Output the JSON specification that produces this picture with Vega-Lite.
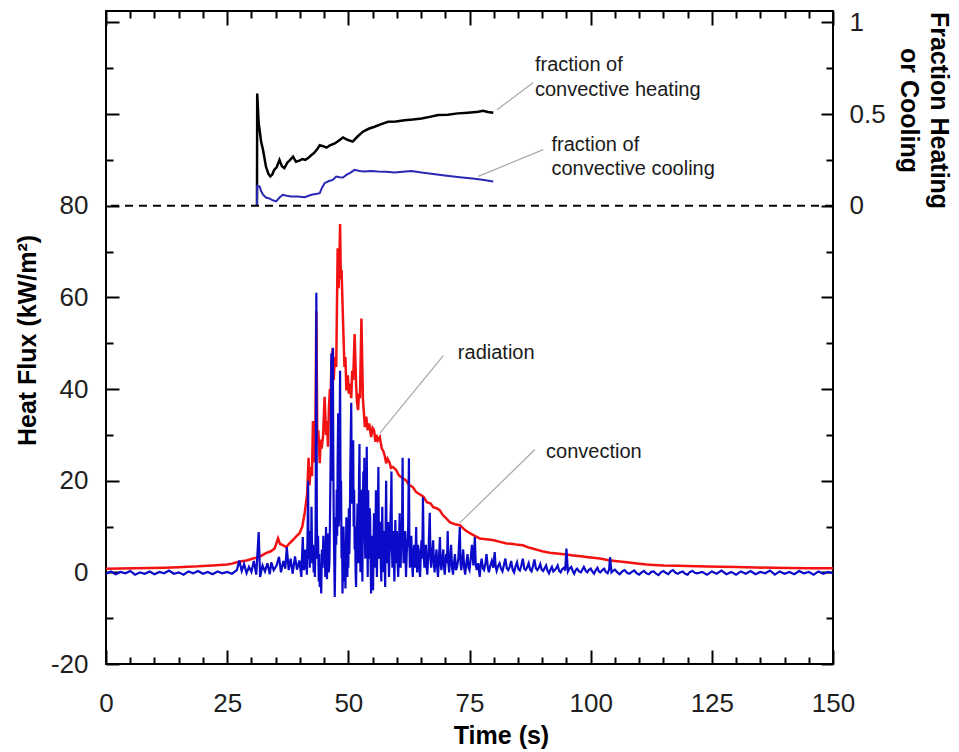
{
  "$schema": "https://vega.github.io/schema/vega-lite/v6.json",
  "width": 727,
  "height": 653,
  "autosize": {"type": "none"},
  "padding": {"left": 106, "top": 11, "right": 126, "bottom": 88},
  "background": "white",
  "config": {
    "view": {"stroke": "black", "strokeWidth": 2},
    "axis": {
      "grid": false, "domain": false, "labelFlush": false, "labelOverlap": false,
      "labelFont": "Liberation Sans", "labelFontSize": 26, "labelColor": "#1e1e1e",
      "titleFont": "Liberation Sans", "titleFontSize": 25, "titleFontWeight": "bold", "titleColor": "#000000",
      "tickColor": "#000000", "tickWidth": 2
    }
  },
  "datasets": {
    "radiation": [
      {"t":0,"q":0.8},{"t":3,"q":0.85},{"t":6,"q":0.9},{"t":9,"q":0.95},{"t":12,"q":1.0},{"t":15,"q":1.1},{"t":18,"q":1.25},{"t":20,"q":1.4},{"t":22,"q":1.5},{"t":25,"q":1.7},{"t":26,"q":1.9},{"t":27,"q":2.2},{"t":28,"q":2.4},{"t":29,"q":2.6},{"t":30,"q":2.9},{"t":31,"q":3.2},{"t":32,"q":3.6},{"t":33,"q":4.2},{"t":34,"q":4.6},{"t":34.8,"q":5.2},{"t":35.5,"q":7.4},{"t":35.9,"q":6.2},{"t":36.4,"q":6.0},{"t":37.2,"q":5.5},{"t":37.8,"q":6.3},{"t":38.5,"q":7.0},{"t":39.2,"q":7.8},{"t":39.9,"q":8.5},{"t":40.5,"q":10},{"t":41.0,"q":13},{"t":41.5,"q":17},{"t":41.8,"q":25},{"t":42.0,"q":19},{"t":42.2,"q":23},{"t":42.5,"q":21},{"t":42.7,"q":33},{"t":42.9,"q":24},{"t":43.2,"q":30},{"t":43.4,"q":57},{"t":43.6,"q":28},{"t":43.8,"q":31},{"t":44.1,"q":23.8},{"t":44.3,"q":29},{"t":44.5,"q":27},{"t":44.8,"q":30},{"t":45.1,"q":38.3},{"t":45.4,"q":30},{"t":45.6,"q":33},{"t":45.8,"q":27.4},{"t":46.0,"q":36},{"t":46.2,"q":40},{"t":46.35,"q":37},{"t":46.5,"q":46},{"t":46.8,"q":48.9},{"t":47.0,"q":42},{"t":47.2,"q":47},{"t":47.5,"q":44.8},{"t":47.8,"q":70.7},{"t":48.0,"q":62},{"t":48.15,"q":68},{"t":48.3,"q":76},{"t":48.45,"q":64},{"t":48.6,"q":66},{"t":48.9,"q":55},{"t":49.2,"q":44.8},{"t":49.4,"q":47},{"t":49.6,"q":39.7},{"t":49.9,"q":43},{"t":50.1,"q":39},{"t":50.3,"q":41.2},{"t":50.6,"q":38},{"t":50.8,"q":44},{"t":51.0,"q":42},{"t":51.3,"q":52},{"t":51.6,"q":41},{"t":51.8,"q":37},{"t":52.0,"q":35.4},{"t":52.2,"q":39},{"t":52.4,"q":38},{"t":52.7,"q":55.4},{"t":53.0,"q":38},{"t":53.2,"q":35},{"t":53.4,"q":31.7},{"t":53.7,"q":34},{"t":54.0,"q":31},{"t":54.3,"q":32.5},{"t":54.7,"q":29.5},{"t":55.0,"q":31.5},{"t":55.3,"q":31},{"t":55.6,"q":28.5},{"t":55.8,"q":30},{"t":56.1,"q":28.8},{"t":56.5,"q":29.5},{"t":56.9,"q":27},{"t":57.2,"q":26.5},{"t":57.5,"q":25.5},{"t":57.8,"q":23.8},{"t":58.1,"q":24.8},{"t":58.5,"q":24},{"t":58.8,"q":22.8},{"t":59.2,"q":23},{"t":59.9,"q":22.3},{"t":60.3,"q":21.4},{"t":60.6,"q":21},{"t":61.3,"q":20.5},{"t":62,"q":20},{"t":62.4,"q":19.2},{"t":62.7,"q":19},{"t":63.3,"q":18.6},{"t":64,"q":17.5},{"t":64.8,"q":17},{"t":65.5,"q":16.5},{"t":66.2,"q":15.3},{"t":67,"q":15},{"t":67.5,"q":14.2},{"t":68.2,"q":14},{"t":68.9,"q":13.5},{"t":69.5,"q":12.5},{"t":70.2,"q":11.8},{"t":71,"q":10.9},{"t":72,"q":10.5},{"t":73,"q":10.3},{"t":74,"q":9.3},{"t":75,"q":8.6},{"t":76,"q":8},{"t":77.1,"q":7.4},{"t":78.5,"q":7.2},{"t":80,"q":7.0},{"t":81.5,"q":6.6},{"t":82.7,"q":6.3},{"t":84,"q":6.2},{"t":85,"q":6.0},{"t":86,"q":5.9},{"t":87,"q":5.5},{"t":88,"q":5.2},{"t":89,"q":4.9},{"t":90,"q":4.6},{"t":91,"q":4.4},{"t":92,"q":4.2},{"t":93,"q":4.1},{"t":94,"q":4.0},{"t":95,"q":3.9},{"t":96.4,"q":3.7},{"t":98,"q":3.5},{"t":99.5,"q":3.3},{"t":101.9,"q":3.0},{"t":103.5,"q":2.7},{"t":105,"q":2.5},{"t":107.5,"q":2.2},{"t":110,"q":1.9},{"t":111.6,"q":1.7},{"t":113,"q":1.6},{"t":115,"q":1.5},{"t":118,"q":1.45},{"t":120,"q":1.4},{"t":124,"q":1.3},{"t":127,"q":1.2},{"t":130,"q":1.15},{"t":134,"q":1.05},{"t":137.7,"q":1.0},{"t":141,"q":0.95},{"t":145,"q":0.9},{"t":150,"q":0.9}
    ],
    "convection": [
      {"t":0,"q":-0.3},{"t":1,"q":0.2},{"t":2,"q":-0.4},{"t":3,"q":0.1},{"t":4,"q":-0.2},{"t":5,"q":0.3},{"t":6,"q":-0.5},{"t":7,"q":0.0},{"t":8,"q":-0.3},{"t":9,"q":0.2},{"t":10,"q":-0.4},{"t":11,"q":0.1},{"t":12,"q":-0.2},{"t":13,"q":0.4},{"t":14,"q":-0.3},{"t":15,"q":0.0},{"t":16,"q":-0.5},{"t":17,"q":0.2},{"t":18,"q":-0.2},{"t":19,"q":0.3},{"t":20,"q":-0.3},{"t":21,"q":0.1},{"t":22,"q":-0.4},{"t":23,"q":0.2},{"t":24,"q":-0.2},{"t":25,"q":0.1},{"t":26,"q":-0.3},
      {"t":27,"q":0.5},{"t":27.5,"q":2.6},{"t":28,"q":0.3},{"t":28.5,"q":1.8},{"t":29,"q":-0.2},{"t":29.5,"q":1.2},{"t":30,"q":0.1},{"t":30.5,"q":2.5},{"t":31,"q":-0.5},{"t":31.5,"q":8.8},{"t":31.8,"q":-1.0},{"t":32.3,"q":1.5},{"t":32.8,"q":0.2},{"t":33.3,"q":2.0},{"t":33.8,"q":-0.4},{"t":34.1,"q":2.2},{"t":34.6,"q":0.5},{"t":35.2,"q":1.5},{"t":35.7,"q":3.4},{"t":36.1,"q":0.0},{"t":36.6,"q":2.5},{"t":37.0,"q":0.8},{"t":37.3,"q":5.5},{"t":37.7,"q":0.5},{"t":38.1,"q":3.0},{"t":38.5,"q":-0.3},{"t":39.0,"q":3.5},{"t":39.4,"q":0.6},{"t":39.9,"q":2.6},{"t":40.3,"q":-1.0},{"t":40.6,"q":7.7},{"t":40.8,"q":0.5},
      {"t":41.0,"q":1},{"t":41.15,"q":5},{"t":41.3,"q":4},{"t":41.45,"q":-0.5},{"t":41.6,"q":9},{"t":41.7,"q":20},{"t":41.8,"q":3},{"t":41.95,"q":6},{"t":42.05,"q":1},{"t":42.2,"q":9},{"t":42.3,"q":3},{"t":42.4,"q":14.3},{"t":42.55,"q":2},{"t":42.7,"q":6},{"t":42.85,"q":0},{"t":43.0,"q":4},{"t":43.1,"q":-1},{"t":43.25,"q":10},{"t":43.4,"q":61},{"t":43.5,"q":12},{"t":43.6,"q":3},{"t":43.75,"q":8},{"t":43.9,"q":-2},{"t":44.0,"q":4},{"t":44.1,"q":-3.2},{"t":44.25,"q":2},{"t":44.4,"q":-4.6},{"t":44.55,"q":5},{"t":44.7,"q":1},{"t":44.85,"q":8},{"t":45.0,"q":2},{"t":45.1,"q":7},{"t":45.25,"q":-1},{"t":45.4,"q":9.9},{"t":45.5,"q":1},{"t":45.6,"q":-1.5},{"t":45.7,"q":6},{"t":45.8,"q":8.5},{"t":45.95,"q":0},{"t":46.1,"q":2},{"t":46.25,"q":15},{"t":46.4,"q":30},{"t":46.5,"q":47.8},{"t":46.6,"q":20},{"t":46.7,"q":35},{"t":46.8,"q":49},{"t":46.9,"q":25},{"t":47.0,"q":10},{"t":47.1,"q":2},{"t":47.2,"q":-5.4},{"t":47.3,"q":3},{"t":47.4,"q":12},{"t":47.5,"q":6},{"t":47.6,"q":18},{"t":47.7,"q":8},{"t":47.8,"q":25},{"t":47.9,"q":34.7},{"t":48.0,"q":10},{"t":48.1,"q":12},{"t":48.2,"q":30},{"t":48.3,"q":44},{"t":48.4,"q":15},{"t":48.5,"q":20},{"t":48.6,"q":3},{"t":48.7,"q":8},{"t":48.8,"q":-4.6},{"t":48.9,"q":2},{"t":49.0,"q":10},{"t":49.1,"q":5},{"t":49.2,"q":-2},{"t":49.3,"q":6},{"t":49.4,"q":-3.5},{"t":49.5,"q":4},{"t":49.6,"q":12},{"t":49.7,"q":8.5},{"t":49.8,"q":-1},{"t":49.9,"q":6},{"t":50.0,"q":1},{"t":50.1,"q":14},{"t":50.2,"q":4},{"t":50.3,"q":9.9},{"t":50.4,"q":22},{"t":50.5,"q":30},{"t":50.6,"q":37},{"t":50.7,"q":20},{"t":50.8,"q":15},{"t":50.9,"q":24},{"t":51.0,"q":28.8},{"t":51.1,"q":10},{"t":51.2,"q":18},{"t":51.3,"q":5},{"t":51.4,"q":10},{"t":51.5,"q":0},{"t":51.6,"q":-3.2},{"t":51.7,"q":6},{"t":51.8,"q":10},{"t":51.9,"q":15},{"t":52.0,"q":4},{"t":52.1,"q":2},{"t":52.2,"q":20},{"t":52.3,"q":28},{"t":52.4,"q":8},{"t":52.5,"q":0},{"t":52.6,"q":12},{"t":52.7,"q":18},{"t":52.8,"q":5},{"t":52.9,"q":-2},{"t":53.0,"q":14},{"t":53.1,"q":22},{"t":53.2,"q":10},{"t":53.3,"q":25},{"t":53.4,"q":8},{"t":53.5,"q":3},{"t":53.6,"q":15},{"t":53.7,"q":6},{"t":53.8,"q":27.4},{"t":53.9,"q":10},{"t":54.0,"q":-1},{"t":54.1,"q":17.9},{"t":54.2,"q":3},{"t":54.3,"q":5},{"t":54.4,"q":14},{"t":54.5,"q":12},{"t":54.6,"q":2},{"t":54.7,"q":-4.6},{"t":54.8,"q":4},{"t":54.9,"q":8},{"t":55.0,"q":1},{"t":55.1,"q":-3.9},{"t":55.2,"q":6},{"t":55.3,"q":12.9},{"t":55.4,"q":4},{"t":55.5,"q":1},{"t":55.6,"q":9},{"t":55.7,"q":17.9},{"t":55.8,"q":5},{"t":55.9,"q":-1},{"t":56.0,"q":8},{"t":56.1,"q":14},{"t":56.2,"q":23},{"t":56.3,"q":7},{"t":56.4,"q":3},{"t":56.5,"q":11},{"t":56.6,"q":10},{"t":56.7,"q":2},{"t":56.8,"q":-2},{"t":56.9,"q":6},{"t":57.0,"q":14.3},{"t":57.1,"q":5},{"t":57.2,"q":0},{"t":57.3,"q":9},{"t":57.4,"q":8},{"t":57.5,"q":2},{"t":57.6,"q":-3.2},{"t":57.7,"q":10},{"t":57.8,"q":20},{"t":57.9,"q":6},{"t":58.0,"q":2},{"t":58.1,"q":8},{"t":58.2,"q":11},{"t":58.3,"q":3},{"t":58.4,"q":-1},{"t":58.5,"q":4},{"t":58.6,"q":6},{"t":58.7,"q":12},{"t":58.8,"q":15},{"t":58.9,"q":22},{"t":59.0,"q":5},{"t":59.1,"q":1},{"t":59.2,"q":6},{"t":59.3,"q":9},{"t":59.4,"q":2},{"t":59.5,"q":-2},{"t":59.6,"q":5},{"t":59.7,"q":11.4},{"t":59.8,"q":4},{"t":59.9,"q":2},{"t":60.0,"q":9},{"t":60.1,"q":7},{"t":60.2,"q":1},{"t":60.3,"q":-1},{"t":60.45,"q":6},{"t":60.6,"q":12.9},{"t":60.7,"q":3},{"t":60.8,"q":1},{"t":60.9,"q":8},{"t":61.0,"q":6},{"t":61.1,"q":12},{"t":61.2,"q":25},{"t":61.3,"q":6},{"t":61.4,"q":2},{"t":61.55,"q":5},{"t":61.7,"q":9},{"t":61.8,"q":3},{"t":61.9,"q":-1},{"t":62.05,"q":4},{"t":62.2,"q":7},{"t":62.35,"q":10},{"t":62.5,"q":24.9},{"t":62.6,"q":6},{"t":62.7,"q":1},{"t":62.85,"q":5},{"t":63.0,"q":8},{"t":63.15,"q":2},{"t":63.3,"q":-1},{"t":63.45,"q":4},{"t":63.6,"q":6},{"t":63.8,"q":1},{"t":64.0,"q":9.9},{"t":64.1,"q":3},{"t":64.2,"q":0},{"t":64.35,"q":6},{"t":64.5,"q":5},{"t":64.65,"q":1},{"t":64.8,"q":-1},{"t":64.95,"q":4},{"t":65.1,"q":7},{"t":65.25,"q":3},{"t":65.4,"q":16.4},{"t":65.55,"q":4},{"t":65.7,"q":1},{"t":65.85,"q":5},{"t":66.0,"q":6},{"t":66.15,"q":1},{"t":66.3,"q":-0.5},{"t":66.55,"q":5},{"t":66.8,"q":13},{"t":66.95,"q":3},{"t":67.1,"q":1},{"t":67.3,"q":4},{"t":67.5,"q":7},{"t":67.65,"q":2},{"t":67.8,"q":0},{"t":68.0,"q":3},{"t":68.2,"q":5},{"t":68.35,"q":1},{"t":68.5,"q":-1},{"t":68.7,"q":3},{"t":68.9,"q":7.7},{"t":69.05,"q":2},{"t":69.2,"q":0.5},{"t":69.4,"q":3},{"t":69.6,"q":5},{"t":69.75,"q":1},{"t":69.9,"q":-0.5},{"t":70.05,"q":2},{"t":70.2,"q":4},{"t":70.35,"q":2},{"t":70.5,"q":9},{"t":70.65,"q":2},{"t":70.8,"q":0},{"t":71.0,"q":3},{"t":71.2,"q":6},{"t":71.4,"q":1},{"t":71.6,"q":-0.5},{"t":71.8,"q":2},{"t":72.0,"q":4},{"t":72.2,"q":0.5},{"t":72.4,"q":1},{"t":72.7,"q":3},{"t":73.0,"q":9.9},{"t":73.15,"q":2},{"t":73.3,"q":0.5},{"t":73.5,"q":2.5},{"t":73.7,"q":5},{"t":73.9,"q":1},{"t":74.1,"q":-0.5},{"t":74.35,"q":2},{"t":74.6,"q":4},{"t":74.8,"q":1},{"t":75.0,"q":0.5},{"t":75.25,"q":3},{"t":75.5,"q":6},{"t":75.8,"q":1.5},{"t":76.1,"q":7.7},{"t":76.3,"q":1.5},{"t":76.5,"q":0.5},{"t":76.8,"q":2},{"t":77.1,"q":-1},{"t":77.3,"q":1.5},{"t":77.5,"q":3},{"t":77.8,"q":0.8},{"t":78,"q":0.5},{"t":78.3,"q":2},{"t":78.5,"q":4},{"t":78.8,"q":1},{"t":79,"q":0},{"t":79.3,"q":1.5},{"t":79.6,"q":2.5},{"t":79.9,"q":1},{"t":80.2,"q":4.4},{"t":80.4,"q":1.2},{"t":80.6,"q":0.3},{"t":80.9,"q":1.4},{"t":81.2,"q":2},{"t":81.5,"q":0.8},{"t":81.8,"q":0.2},{"t":82.1,"q":1.6},{"t":82.4,"q":3},{"t":82.7,"q":0.9},{"t":83,"q":0.5},{"t":83.3,"q":1.2},{"t":83.6,"q":2.5},{"t":83.9,"q":0.6},{"t":84.2,"q":0},{"t":84.5,"q":1.3},{"t":84.8,"q":2.2},{"t":85.1,"q":0.7},{"t":85.4,"q":0.4},{"t":85.7,"q":1.5},{"t":86,"q":3},{"t":86.3,"q":0.8},{"t":86.6,"q":0.5},{"t":86.9,"q":1.1},{"t":87.2,"q":2},{"t":87.5,"q":0.6},{"t":87.8,"q":0.2},{"t":88.1,"q":1.4},{"t":88.4,"q":2.8},{"t":88.7,"q":0.9},{"t":89,"q":0.5},{"t":89.3,"q":1.0},{"t":89.6,"q":1.8},{"t":89.9,"q":0.6},{"t":90.2,"q":0.3},{"t":90.5,"q":0.9},{"t":90.8,"q":1.5},{"t":91.1,"q":0.4},{"t":91.4,"q":-0.2},{"t":91.7,"q":0.6},{"t":92,"q":1.2},{"t":92.3,"q":0.2},{"t":92.6,"q":0.5},{"t":92.9,"q":0.9},{"t":93.2,"q":1.5},{"t":93.5,"q":0.3},{"t":93.8,"q":0},{"t":94.1,"q":0.7},{"t":94.5,"q":1.0},{"t":94.75,"q":0.4},{"t":95.0,"q":5.2},{"t":95.3,"q":0.2},{"t":95.6,"q":0.8},{"t":96,"q":1.2},{"t":96.3,"q":0.3},{"t":96.6,"q":-0.3},{"t":96.9,"q":0.5},{"t":97.2,"q":0.8},{"t":97.6,"q":0.2},{"t":98,"q":0},{"t":98.3,"q":0.6},{"t":98.6,"q":1.2},{"t":99.0,"q":0.3},{"t":99.3,"q":0},{"t":99.6,"q":0.5},{"t":100,"q":0.8},{"t":100.4,"q":0.1},{"t":100.7,"q":-0.3},{"t":101.0,"q":0.4},{"t":101.4,"q":1.0},{"t":101.7,"q":0.2},{"t":102,"q":0},{"t":102.4,"q":0.5},{"t":102.8,"q":0.8},{"t":103.1,"q":0.1},{"t":103.5,"q":-0.2},{"t":103.8,"q":0.6},{"t":104,"q":3.3},{"t":104.3,"q":0},{"t":104.6,"q":0.3},{"t":105,"q":0.6},{"t":105.5,"q":0.0},{"t":106,"q":-0.4},{"t":106.5,"q":0.2},{"t":107,"q":0.5},{"t":107.5,"q":-0.1},{"t":108,"q":-0.3},{"t":108.5,"q":0.1},{"t":109,"q":0.4},{"t":109.5,"q":-0.2},{"t":110,"q":-0.5},{"t":110.5,"q":0.0},{"t":111,"q":0.3},{"t":111.5,"q":-0.2},{"t":112,"q":-0.4},{"t":112.5,"q":0.1},{"t":113,"q":0.2},{"t":113.5,"q":-0.3},{"t":114,"q":-0.6},{"t":114.5,"q":0.0},{"t":115,"q":0.3},{"t":115.5,"q":-0.1},{"t":116,"q":-0.4},{"t":116.5,"q":0.2},{"t":117,"q":0.5},{"t":117.5,"q":-0.1},{"t":118,"q":-0.3},{"t":118.5,"q":0.0},{"t":119,"q":0.2},{"t":119.5,"q":-0.3},{"t":120,"q":-0.5},{"t":120.5,"q":0.1},{"t":121,"q":0.3},{"t":121.5,"q":-0.1},{"t":122,"q":-0.2},{"t":123,"q":0.1},{"t":124,"q":-0.5},{"t":125,"q":0.2},{"t":126,"q":-0.3},{"t":127,"q":0.4},{"t":128,"q":-0.4},{"t":129,"q":0.1},{"t":130,"q":-0.5},{"t":131,"q":0.2},{"t":132,"q":-0.3},{"t":133,"q":0.3},{"t":134,"q":-0.4},{"t":135,"q":0.1},{"t":136,"q":-0.2},{"t":137,"q":0.4},{"t":138,"q":-0.5},{"t":139,"q":0.2},{"t":140,"q":-0.3},{"t":141,"q":0.1},{"t":142,"q":-0.4},{"t":143,"q":0.3},{"t":144,"q":-0.2},{"t":145,"q":0.1},{"t":146,"q":-0.5},{"t":147,"q":0.2},{"t":148,"q":-0.3},{"t":149,"q":0.1},{"t":150,"q":-0.2}
    ],
    "heating": [
      {"t":31.15,"f":0},{"t":31.2,"f":0.612},{"t":31.5,"f":0.45},{"t":31.7,"f":0.413},{"t":32.0,"f":0.35},{"t":32.4,"f":0.304},{"t":33.0,"f":0.214},{"t":33.5,"f":0.175},{"t":33.9,"f":0.16},{"t":34.3,"f":0.17},{"t":34.7,"f":0.196},{"t":35.2,"f":0.21},{"t":35.8,"f":0.25},{"t":36.3,"f":0.215},{"t":36.8,"f":0.205},{"t":37.4,"f":0.235},{"t":38.0,"f":0.25},{"t":38.6,"f":0.268},{"t":39.2,"f":0.24},{"t":39.9,"f":0.246},{"t":40.5,"f":0.255},{"t":41.1,"f":0.25},{"t":41.7,"f":0.26},{"t":42.4,"f":0.277},{"t":43.0,"f":0.29},{"t":43.6,"f":0.31},{"t":44.1,"f":0.33},{"t":44.8,"f":0.325},{"t":45.5,"f":0.317},{"t":46.2,"f":0.33},{"t":47.2,"f":0.34},{"t":48.0,"f":0.355},{"t":48.9,"f":0.373},{"t":49.8,"f":0.36},{"t":50.9,"f":0.35},{"t":51.8,"f":0.375},{"t":53.0,"f":0.404},{"t":54.2,"f":0.42},{"t":55.4,"f":0.431},{"t":56.8,"f":0.445},{"t":58.2,"f":0.458},{"t":59.8,"f":0.46},{"t":61.6,"f":0.467},{"t":63.3,"f":0.47},{"t":65.1,"f":0.476},{"t":66.8,"f":0.485},{"t":68.5,"f":0.495},{"t":70.5,"f":0.497},{"t":72.6,"f":0.504},{"t":74.7,"f":0.508},{"t":76.8,"f":0.513},{"t":77.8,"f":0.518},{"t":78.8,"f":0.512},{"t":79.9,"f":0.507}
    ],
    "cooling": [
      {"t":31.15,"f":0},{"t":31.2,"f":0.109},{"t":31.7,"f":0.105},{"t":32.0,"f":0.08},{"t":32.4,"f":0.06},{"t":33.0,"f":0.045},{"t":33.7,"f":0.04},{"t":34.4,"f":0.03},{"t":35.1,"f":0.024},{"t":35.8,"f":0.045},{"t":36.5,"f":0.06},{"t":37.3,"f":0.055},{"t":38.2,"f":0.05},{"t":39.5,"f":0.05},{"t":41.0,"f":0.047},{"t":42.4,"f":0.06},{"t":43.5,"f":0.065},{"t":44.1,"f":0.069},{"t":44.6,"f":0.1},{"t":45.1,"f":0.123},{"t":46.0,"f":0.135},{"t":46.8,"f":0.141},{"t":47.5,"f":0.159},{"t":48.2,"f":0.155},{"t":48.9,"f":0.154},{"t":49.6,"f":0.168},{"t":50.3,"f":0.178},{"t":51.3,"f":0.196},{"t":52.3,"f":0.19},{"t":53.3,"f":0.187},{"t":54.7,"f":0.19},{"t":56.1,"f":0.187},{"t":57.8,"f":0.185},{"t":59.5,"f":0.181},{"t":61.2,"f":0.186},{"t":63.0,"f":0.19},{"t":65.1,"f":0.181},{"t":67.5,"f":0.173},{"t":69.9,"f":0.165},{"t":73.0,"f":0.156},{"t":76.1,"f":0.147},{"t":78.0,"f":0.14},{"t":79.9,"f":0.132}
    ],
    "heatLeaders": [
      {"t":56.5,"v":30.4,"t2":69.6,"v2":47.3},
      {"t":73.0,"v":10.8,"t2":88.5,"v2":26.8}
    ],
    "fracLeaders": [
      {"t":80.7,"v":0.524,"t2":88.1,"v2":0.671},
      {"t":76.8,"v":0.160,"t2":90.2,"v2":0.306}
    ],
    "heatLabels": [
      {"t":72.6,"v":46.5,"label":"radiation"},
      {"t":90.8,"v":24.9,"label":"convection"}
    ],
    "fracLabels": [
      {"t":88.5,"v":0.736,"label":"fraction of"},
      {"t":88.5,"v":0.600,"label":"convective heating"},
      {"t":91.9,"v":0.300,"label":"fraction of"},
      {"t":91.9,"v":0.169,"label":"convective cooling"}
    ],
    "zero": [{"f":0}]
  },
  "resolve": {
    "scale": {"x": "independent", "y": "independent"},
    "axis": {"x": "independent", "y": "independent"}
  },
  "layer": [
    {
      "data": {"name": "radiation"},
      "mark": {"type": "line", "color": "#f21212", "strokeWidth": 2.5},
      "encoding": {
        "x": {"field": "t", "type": "quantitative", "scale": {"domain": [0, 150], "nice": false, "zero": false},
          "axis": {"orient": "bottom", "values": [0, 25, 50, 75, 100, 125, 150], "ticks": false, "labelPadding": 26,
            "title": "Time (s)", "titleX": 395, "titleY": 79, "titleBaseline": "alphabetic"}},
        "y": {"field": "q", "type": "quantitative", "scale": {"domain": [-20, 122.5], "nice": false, "zero": false},
          "axis": {"orient": "left", "values": [-20, 0, 20, 40, 60, 80], "ticks": false, "labelPadding": 18,
            "labelExpr": "toString(datum.value)",
            "title": "Heat Flux (kW/m²)", "titleAngle": -90, "titleX": -71, "titleY": 329, "titleBaseline": "alphabetic"}}
      }
    },
    {
      "data": {"name": "convection"},
      "mark": {"type": "line", "color": "#0a0ac8", "strokeWidth": 2.2},
      "encoding": {
        "x": {"field": "t", "type": "quantitative", "scale": {"domain": [0, 150], "nice": false, "zero": false},
          "axis": {"orient": "bottom", "values": [0, 25, 50, 75, 100, 125, 150], "labels": false, "title": null, "tickSize": 14, "offset": -14}},
        "y": {"field": "q", "type": "quantitative", "scale": {"domain": [-20, 122.5], "nice": false, "zero": false},
          "axis": {"orient": "left", "values": [-20, 0, 20, 40, 60, 80, 100, 120], "labels": false, "title": null, "tickSize": 13, "offset": -13}}
      }
    },
    {
      "data": {"name": "heatLeaders"},
      "mark": {"type": "rule", "color": "#a8a8a8", "strokeWidth": 1.2},
      "encoding": {
        "x": {"field": "t", "type": "quantitative", "scale": {"domain": [0, 150], "nice": false, "zero": false},
          "axis": {"orient": "bottom", "values": [5, 10, 15, 20, 30, 35, 40, 45, 55, 60, 65, 70, 80, 85, 90, 95, 105, 110, 115, 120, 130, 135, 140, 145], "labels": false, "title": null, "tickSize": 7, "offset": -7}},
        "y": {"field": "v", "type": "quantitative", "scale": {"domain": [-20, 122.5], "nice": false, "zero": false},
          "axis": {"orient": "left", "values": [-10, 10, 30, 50, 70, 90, 110], "labels": false, "title": null, "tickSize": 7, "offset": -7}},
        "x2": {"field": "t2"},
        "y2": {"field": "v2"}
      }
    },
    {
      "data": {"name": "heatLabels"},
      "mark": {"type": "text", "align": "left", "baseline": "alphabetic", "font": "Liberation Sans", "fontSize": 20, "color": "#1a1a1a"},
      "encoding": {
        "x": {"field": "t", "type": "quantitative", "scale": {"domain": [0, 150], "nice": false, "zero": false}, "axis": null},
        "y": {"field": "v", "type": "quantitative", "scale": {"domain": [-20, 122.5], "nice": false, "zero": false}, "axis": null},
        "text": {"field": "label"}
      }
    },
    {
      "data": {"name": "heating"},
      "mark": {"type": "line", "color": "#000000", "strokeWidth": 2.5},
      "encoding": {
        "x": {"field": "t", "type": "quantitative", "scale": {"domain": [0, 150], "nice": false, "zero": false},
          "axis": {"orient": "top", "values": [0, 25, 50, 75, 100, 125, 150], "labels": false, "title": null, "tickSize": 14, "offset": -14}},
        "y": {"field": "f", "type": "quantitative", "scale": {"domain": [-2.5, 1.0625], "nice": false, "zero": false},
          "axis": {"orient": "right", "values": [0, 0.5, 1], "ticks": false, "labelPadding": 16,
            "labelExpr": "toString(datum.value)",
            "title": ["Fraction Heating", "or Cooling"], "titleAngle": 90, "titleX": 97, "titleY": 99,
            "titleBaseline": "alphabetic", "titleLineHeight": 30}}
      }
    },
    {
      "data": {"name": "cooling"},
      "mark": {"type": "line", "color": "#2828b4", "strokeWidth": 2},
      "encoding": {
        "x": {"field": "t", "type": "quantitative", "scale": {"domain": [0, 150], "nice": false, "zero": false},
          "axis": {"orient": "top", "values": [5, 10, 15, 20, 30, 35, 40, 45, 55, 60, 65, 70, 80, 85, 90, 95, 105, 110, 115, 120, 130, 135, 140, 145], "labels": false, "title": null, "tickSize": 7, "offset": -7}},
        "y": {"field": "f", "type": "quantitative", "scale": {"domain": [-2.5, 1.0625], "nice": false, "zero": false},
          "axis": {"orient": "right", "values": [-2.5, -2, -1.5, -1, -0.5, 0, 0.5, 1], "labels": false, "title": null, "tickSize": 12, "offset": -12}}
      }
    },
    {
      "data": {"name": "zero"},
      "mark": {"type": "rule", "color": "#000000", "strokeWidth": 2, "strokeDash": [8, 6]},
      "encoding": {
        "y": {"field": "f", "type": "quantitative", "scale": {"domain": [-2.5, 1.0625], "nice": false, "zero": false},
          "axis": {"orient": "right", "values": [-2.25, -1.75, -1.25, -0.75, -0.25, 0.25, 0.75], "labels": false, "title": null, "tickSize": 7, "offset": -7}}
      }
    },
    {
      "data": {"name": "fracLeaders"},
      "mark": {"type": "rule", "color": "#a8a8a8", "strokeWidth": 1.2},
      "encoding": {
        "x": {"field": "t", "type": "quantitative", "scale": {"domain": [0, 150], "nice": false, "zero": false}, "axis": null},
        "y": {"field": "v", "type": "quantitative", "scale": {"domain": [-2.5, 1.0625], "nice": false, "zero": false}, "axis": null},
        "x2": {"field": "t2"},
        "y2": {"field": "v2"}
      }
    },
    {
      "data": {"name": "fracLabels"},
      "mark": {"type": "text", "align": "left", "baseline": "alphabetic", "font": "Liberation Sans", "fontSize": 20, "color": "#1a1a1a"},
      "encoding": {
        "x": {"field": "t", "type": "quantitative", "scale": {"domain": [0, 150], "nice": false, "zero": false}, "axis": null},
        "y": {"field": "v", "type": "quantitative", "scale": {"domain": [-2.5, 1.0625], "nice": false, "zero": false}, "axis": null},
        "text": {"field": "label"}
      }
    }
  ]
}
